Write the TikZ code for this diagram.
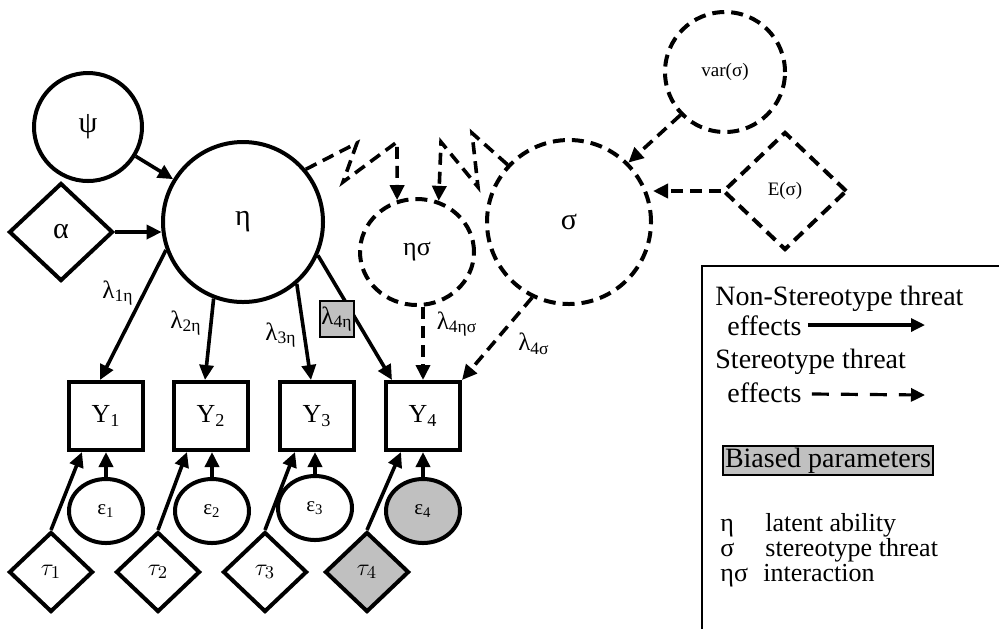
\documentclass[tikz,border=0pt]{standalone}
\usepackage{fontspec}
\setmainfont{Liberation Serif}
\usetikzlibrary{arrows.meta,shapes.geometric}
\definecolor{biasgray}{RGB}{192,192,192}
\tikzset{
  lat/.style={circle,draw,line width=2pt,inner sep=0pt,font=\fontsize{15}{17}\selectfont},
  latd/.style={lat,dash pattern=on 6pt off 3.5pt},
  obs/.style={rectangle,draw,line width=2pt,minimum width=37pt,minimum height=34pt,font=\fontsize{13}{15}\selectfont},
  cst/.style={diamond,draw,line width=2pt,inner sep=0pt,minimum width=42pt,minimum height=40pt,font=\fontsize{12.5}{14}\selectfont},
  err/.style={ellipse,draw,line width=2pt,inner sep=0pt,minimum width=37pt,minimum height=32pt,font=\fontsize{10.5}{12}\selectfont},
  arr/.style={-{Triangle[length=7.5pt,width=7pt]},line width=1.8pt},
  darr/.style={arr,dash pattern=on 6pt off 3.5pt},
  lam/.style={inner sep=1pt,font=\fontsize{12.5}{14}\selectfont},
  leg/.style={anchor=base west,inner sep=0pt,font=\fontsize{14}{16}\selectfont},
  key/.style={leg,font=\fontsize{13}{15}\selectfont}
}
\begin{document}
\begin{tikzpicture}[x=0.5pt,y=-0.5pt]
\useasboundingbox (0,0) rectangle (999,629);

\node[lat,minimum size=54pt] (psi) at (88,127) {ψ};
\node[cst,minimum width=52pt,minimum height=49pt,font=\fontsize{15}{17}\selectfont] (alpha) at (61,232) {α};
\node[lat,minimum size=80pt] (eta) at (243,222) {η};
\node[latd,ellipse,minimum width=57pt,minimum height=53pt,font=\fontsize{13}{15}\selectfont] (es) at (417,252) {ησ};
\node[latd,minimum size=82pt] (sigma) at (569,222) {σ};
\node[latd,minimum size=60pt,font=\fontsize{9.5}{11}\selectfont] (vars) at (725,72) {var(σ)};
\node[cst,dash pattern=on 6pt off 3.5pt,minimum width=62pt,minimum height=59pt,font=\fontsize{9.5}{11}\selectfont] (Esig) at (785,191) {E(σ)};

\node[obs] (Y1) at (106,416) {Y\textsubscript{1}};
\node[obs] (Y2) at (211,416) {Y\textsubscript{2}};
\node[obs] (Y3) at (317,416) {Y\textsubscript{3}};
\node[obs] (Y4) at (423,416) {Y\textsubscript{4}};

\node[err] (e1) at (106,511) {ε\textsubscript{1}};
\node[err] (e2) at (212,511) {ε\textsubscript{2}};
\node[err] (e3) at (315,508) {ε\textsubscript{3}};
\node[err,fill=biasgray] (e4) at (423,511) {ε\textsubscript{4}};

\node[cst] (t1) at (51,572) {$\tau_1$};
\node[cst] (t2) at (158,572) {$\tau_2$};
\node[cst] (t3) at (265,572) {$\tau_3$};
\node[cst,fill=biasgray] (t4) at (367,572) {$\tau_4$};

\draw[arr] (psi) -- (eta);
\draw[arr] (alpha.east) -- (eta.187);
\draw[arr] (eta.200) -- ([xshift=-3pt]Y1.north);
\draw[arr] (eta.249) -- ([xshift=-3pt]Y2.north);
\draw[arr] (eta.311) -- ([xshift=-3pt]Y3.north);
\draw[arr] (eta.336) -- ([xshift=4pt]Y4.north west);
\draw[darr] (es.south -| Y4.north) -- (Y4.north);
\draw[darr] (sigma.244) -- (Y4.north east);
\draw[darr] (vars.224) -- (sigma.45);
\draw[darr] (Esig.west) -- (Esig.west -| sigma.east);
\draw[darr] (eta.40) -- (357,143) -- (343,182) -- (397,142) -- (es.111);
\draw[darr] (sigma.137) -- (472,133) -- (478,187) -- (441,142) -- (es.67);

\draw[arr] (e1.north) -- (e1.north |- Y1.south);
\draw[arr] (e2.north) -- (e2.north |- Y2.south);
\draw[arr] (e3.north) -- (e3.north |- Y3.south);
\draw[arr] (e4.north) -- (e4.north |- Y4.south);
\draw[arr] (t1.north) -- ([xshift=-12pt]Y1.south);
\draw[arr] (t2.north) -- ([xshift=-12pt]Y2.south);
\draw[arr] (t3.north) -- ([xshift=-11pt]Y3.south);
\draw[arr] (t4.north) -- ([xshift=-11pt]Y4.south);

\node[lam] (l1) at (118,293) {λ\textsubscript{1η}};
\node[lam] (l2) at (186,323) {λ\textsubscript{2η}};
\node[lam] (l3) at (281,335) {λ\textsubscript{3η}};
\node[lam,draw,line width=1pt,fill=biasgray,inner sep=0.5pt,minimum height=18pt] (l4) at (337,319) {λ\textsubscript{4η}};
\node[lam] (l4es) at (457,324) {λ\textsubscript{4ησ}};
\node[lam] (l4s) at (534,344) {λ\textsubscript{4σ}};

\draw[line width=1pt] (999,266) -- (702,266) -- (702,629);
\node[leg] (nst) at (715,305) {Non-Stereotype threat};
\node[leg] (effa) at (727,335) {effects};
\coordinate (arra) at (925,325);
\draw[-{Triangle[length=7pt,width=6.5pt]},line width=1.6pt] ([xshift=3pt,yshift=5pt]effa.base east) -- (arra);
\node[leg] (st) at (715,368) {Stereotype threat};
\node[leg] (effb) at (727,402) {effects};
\coordinate (arrb) at (925,395);
\draw[-{Triangle[length=7pt,width=6.5pt]},line width=1.6pt,dash pattern=on 8.5pt off 6pt] ([xshift=5pt,yshift=4pt]effb.base east) -- (arrb);
\node[leg,draw,line width=1pt,fill=biasgray,inner sep=1pt] (biased) at (722,467) {Biased parameters};
\node[key] (keta) at (720,531) {η};
\node[key] (ketat) at (765,531) {latent ability};
\node[key] (ksig) at (720,556) {σ};
\node[key] (ksigt) at (765,556) {stereotype threat};
\node[key] (kes) at (720,581) {ησ};
\node[key] (kest) at (763,581) {interaction};
\end{tikzpicture}
\end{document}
